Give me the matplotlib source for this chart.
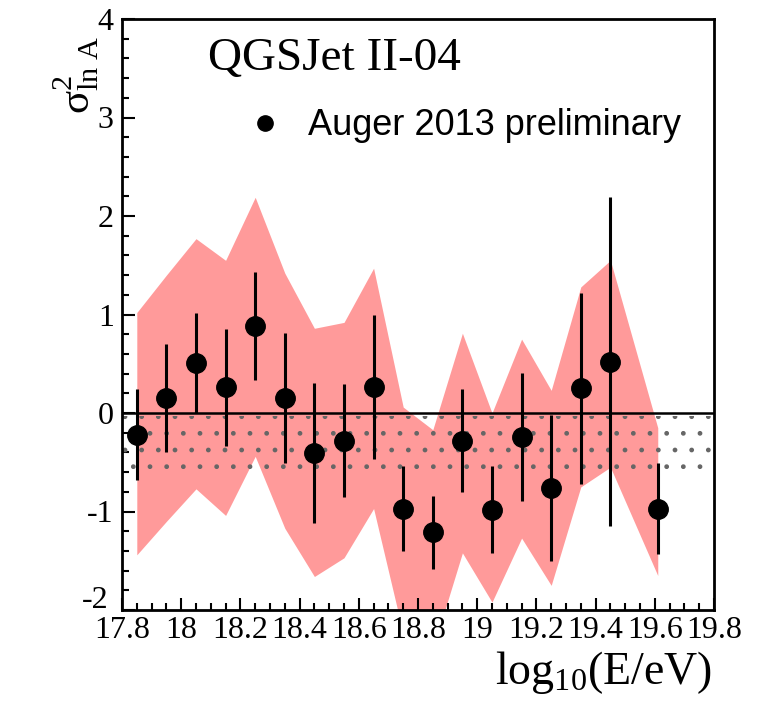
import numpy as np
import matplotlib
matplotlib.use("Agg")
import matplotlib.pyplot as plt
from matplotlib.lines import Line2D
from matplotlib.ticker import MultipleLocator
from matplotlib.transforms import ScaledTranslation

plt.rcParams["font.family"] = ["Liberation Serif", "DejaVu Serif"]
plt.rcParams["mathtext.fontset"] = "custom"
plt.rcParams["mathtext.rm"] = "Liberation Serif"
plt.rcParams["mathtext.it"] = "Liberation Serif:italic"
plt.rcParams["mathtext.bf"] = "Liberation Serif:bold"
plt.rcParams["hatch.linewidth"] = 1.0

# Energy bins, log10(E/eV)
energy = [17.85, 17.95, 18.05, 18.15, 18.25, 18.35, 18.45, 18.55, 18.65,
          18.75, 18.85, 18.95, 19.05, 19.15, 19.25, 19.35, 19.45, 19.61]

# Measured variance of ln A with statistical uncertainties
sigma2_lnA = [-0.22, 0.15, 0.51, 0.26, 0.88, 0.15, -0.41, -0.28, 0.26,
              -0.97, -1.21, -0.28, -0.98, -0.24, -0.76, 0.25, 0.52, -0.97]
sigma2_err = [0.46, 0.55, 0.51, 0.59, 0.55, 0.66, 0.71, 0.57, 0.73,
              0.43, 0.37, 0.52, 0.44, 0.65, 0.74, 0.97, 1.67, 0.46]

# Allowed region from the model (upper and lower envelope)
band_upper = [1.02, 1.40, 1.77, 1.55, 2.19, 1.42, 0.86, 0.92, 1.47,
              0.06, -0.17, 0.81, 0.00, 0.75, 0.23, 1.28, 1.55, -0.15]
band_lower = [-1.44, -1.10, -0.77, -1.04, -0.44, -1.17, -1.66, -1.47, -0.97,
              -2.24, -2.40, -1.42, -1.92, -1.27, -1.75, -0.75, -0.55, -1.65]

# Unphysical region below zero
unphys_x = [17.8, 19.8]
unphys_top = [-0.03, -0.03]
unphys_bottom = [-0.59, -0.59]

x_ticks = [17.8, 18.0, 18.2, 18.4, 18.6, 18.8, 19.0, 19.2, 19.4, 19.6, 19.8]
x_ticklabels = ["17.8", "18", "18.2", "18.4", "18.6", "18.8", "19",
                "19.2", "19.4", "19.6", "19.8"]
y_ticks = [-2, -1, 0, 1, 2, 3, 4]
y_ticklabels = ["-2", "-1", "0", "1", "2", "3", "4"]

fig = plt.figure(figsize=(7.62, 7.09), dpi=100)
ax = fig.add_axes([122 / 762, 1 - 610 / 709, 592 / 762, 591 / 709])

ax.fill_between(energy, band_lower, band_upper, color="#ff9a9a",
                linewidth=0, zorder=1)
ax.fill_between(unphys_x, unphys_bottom, unphys_top, facecolor="none",
                edgecolor="#666666", linewidth=0, hatch=".", zorder=2)
ax.axhline(0, color="black", linewidth=1.8, zorder=3)

ax.errorbar(energy, sigma2_lnA, yerr=sigma2_err, fmt="o", color="black",
            markersize=14, elinewidth=2.2, capsize=0, zorder=4)

ax.set_xlim(17.8, 19.8)
ax.set_ylim(-2, 4)
ax.set_xticks(x_ticks)
ax.set_xticklabels(x_ticklabels)
ax.set_yticks(y_ticks)
ax.set_yticklabels(y_ticklabels)
ax.xaxis.set_minor_locator(MultipleLocator(0.05))
ax.yaxis.set_minor_locator(MultipleLocator(0.2))
ax.tick_params(which="both", direction="in", top=False, right=False,
               width=1.5, labelsize=23)
ax.tick_params(which="major", length=9)
ax.tick_params(which="minor", length=5)
ax.tick_params(axis="x", pad=4)
ax.tick_params(axis="y", pad=6)
for s in ax.spines.values():
    s.set_linewidth(2.0)

# lift the lowest y label so it clears the first x label
lowest = ax.get_yticklabels()[0]
lowest.set_transform(lowest.get_transform()
                     + ScaledTranslation(-4 / 72, 9 / 72, fig.dpi_scale_trans))

ax.text(0.145, 0.914, "QGSJet II-04", transform=ax.transAxes,
        fontsize=34, va="baseline", ha="left")

handle = Line2D([], [], marker="o", color="black", linestyle="none",
                markersize=11)
ax.legend([handle], ["Auger 2013 preliminary"], loc="center left",
          bbox_to_anchor=(0.211, 0.819), frameon=False, borderpad=0,
          borderaxespad=0, handlelength=1.0, handletextpad=0.7,
          prop={"family": "Liberation Sans", "size": 26})

fig.text(76 / 762, 1 - 36 / 709, r"$\mathrm{\sigma}^{2}_{\mathrm{ln\ A}}$",
         rotation=90, ha="center", va="top", fontsize=31)
fig.text(712 / 762, 1 - 684 / 709, r"log$_{10}$(E/eV)",
         ha="right", va="baseline", fontsize=33)

fig.savefig("out.png", dpi=100)
